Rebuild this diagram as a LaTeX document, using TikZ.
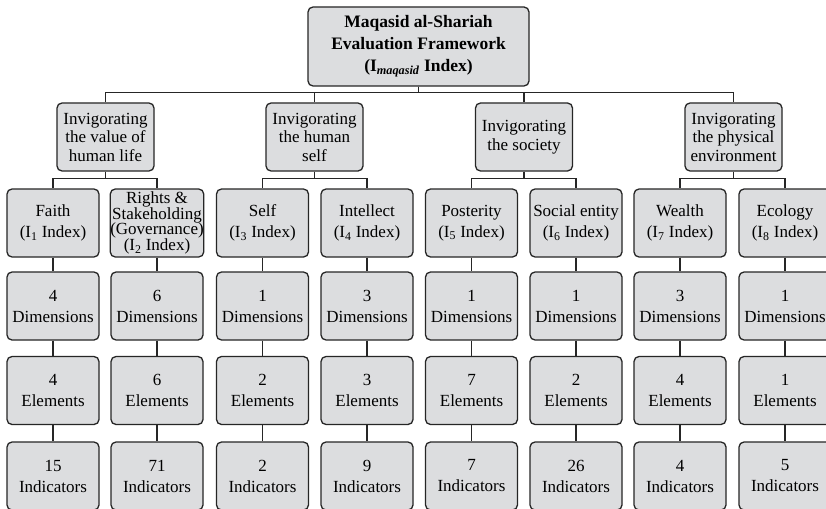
\documentclass[tikz,border=0pt]{standalone}
\usepackage{fontspec}
\setmainfont{Liberation Serif}
\usetikzlibrary{calc}
\definecolor{boxfill}{RGB}{220,221,223}
\begin{document}
\begin{tikzpicture}[x=1pt,y=-1pt,
  box/.style={draw=black!85, line width=1.3pt, fill=boxfill, rounded corners=5pt,
    align=center, inner sep=0pt, font=\fontsize{17}{21}\selectfont},
  rootbox/.style={box, minimum width=221pt, minimum height=79pt,
    font=\bfseries\fontsize{17.5}{22}\selectfont},
  pillar/.style={box, minimum width=97pt, minimum height=68pt,
    font=\fontsize{17}{18.5}\selectfont},
  leaf/.style={box, minimum width=92pt, minimum height=68pt},
  link/.style={draw=black!85, line width=1.3pt}]

\clip (0,0) rectangle (826,508);
\fill[white] (0,0) rectangle (826,508);

% root
\node[rootbox] (root) at (418.5,46.5)
  {Maqasid al-Shariah\\Evaluation Framework\\(I\textsubscript{\textit{maqasid}} Index)};

% four pillars
\node[pillar] (p1) at (105.5,137) {Invigorating\\the value of\\human life};
\node[pillar] (p2) at (314.5,137) {Invigorating\\the human\\self};
\node[pillar] (p3) at (524,137) {Invigorating\\the society};
\node[pillar] (p4) at (733.5,137) {Invigorating\\the physical\\environment};

% index boxes
\node[leaf] (i1) at (53,223) {Faith\\(I\textsubscript{1} Index)};
\node[leaf, font=\fontsize{17}{15.7}\selectfont] (i2) at (157,223)
  {Rights \&\\Stakeholding\\(Governance)\\(I\textsubscript{2} Index)};
\node[leaf] (i3) at (262.5,223) {Self\\(I\textsubscript{3} Index)};
\node[leaf] (i4) at (367,223) {Intellect\\(I\textsubscript{4} Index)};
\node[leaf] (i5) at (471.5,223) {Posterity\\(I\textsubscript{5} Index)};
\node[leaf] (i6) at (576,223) {Social entity\\(I\textsubscript{6} Index)};
\node[leaf] (i7) at (680,223) {Wealth\\(I\textsubscript{7} Index)};
\node[leaf] (i8) at (785,223) {Ecology\\(I\textsubscript{8} Index)};

% dimensions
\node[leaf] (d1) at (53,306) {4\\Dimensions};
\node[leaf] (d2) at (157,306) {6\\Dimensions};
\node[leaf] (d3) at (262.5,306) {1\\Dimensions};
\node[leaf] (d4) at (367,306) {3\\Dimensions};
\node[leaf] (d5) at (471.5,306) {1\\Dimensions};
\node[leaf] (d6) at (576,306) {1\\Dimensions};
\node[leaf] (d7) at (680,306) {3\\Dimensions};
\node[leaf] (d8) at (785,306) {1\\Dimensions};

% elements
\node[leaf] (e1) at (53,390.5) {4\\Elements};
\node[leaf] (e2) at (157,390.5) {6\\Elements};
\node[leaf] (e3) at (262.5,390.5) {2\\Elements};
\node[leaf] (e4) at (367,390.5) {3\\Elements};
\node[leaf] (e5) at (471.5,390.5) {7\\Elements};
\node[leaf] (e6) at (576,390.5) {2\\Elements};
\node[leaf] (e7) at (680,390.5) {4\\Elements};
\node[leaf] (e8) at (785,390.5) {1\\Elements};

% indicators
\node[leaf] (n1) at (53,476) {15\\Indicators};
\node[leaf] (n2) at (157,476) {71\\Indicators};
\node[leaf] (n3) at (262.5,476) {2\\Indicators};
\node[leaf] (n4) at (367,476) {9\\Indicators};
\node[leaf] (n5) at (471.5,476) {7\\Indicators};
\node[leaf] (n6) at (576,476) {26\\Indicators};
\node[leaf] (n7) at (680,476) {4\\Indicators};
\node[leaf] (n8) at (785,476) {5\\Indicators};

% root to pillars
\foreach \c in {p1,p2,p3,p4}
  \draw[link] (root.south) |- ($(\c.north)+(0,-10)$) -- (\c.north);

% pillars to index boxes
\foreach \p/\a/\b in {p1/i1/i2, p2/i3/i4, p3/i5/i6, p4/i7/i8} {
  \draw[link] (\p.south) |- ($(\a.north)+(0,-10)$) -- (\a.north);
  \draw[link] (\p.south) |- ($(\b.north)+(0,-10)$) -- (\b.north);
}

% vertical chains
\foreach \k in {1,...,8} {
  \draw[link] (i\k.south) -- (d\k.north);
  \draw[link] (d\k.south) -- (e\k.north);
  \draw[link] (e\k.south) -- (n\k.north);
}
\end{tikzpicture}
\end{document}
